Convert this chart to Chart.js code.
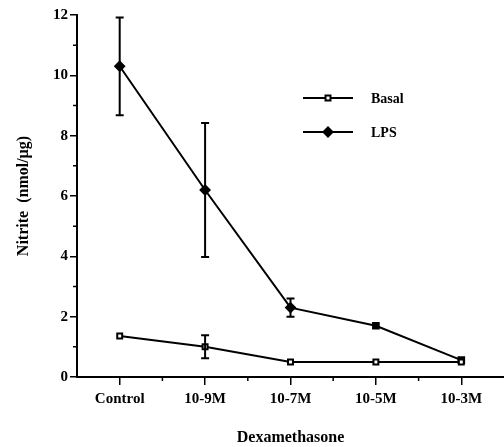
<!DOCTYPE html>
<html>
<head>
<meta charset="utf-8">
<script src="https://cdn.jsdelivr.net/npm/chart.js@4"></script>
<style>
  html, body { margin: 0; padding: 0; background: #fff; }
  canvas { display: block; }
</style>
</head>
<body>
<canvas id="c" width="504" height="447"></canvas>
<script>
// data
const doses = ["Control", "10-9M", "10-7M", "10-5M", "10-3M"];
const basal = [1.36, 1.0, 0.5, 0.5, 0.5];
const basalErr = [0, 0.38, 0, 0, 0];
const lps = [10.3, 6.2, 2.3, 1.7, 0.56];
const lpsErr = [1.62, 2.22, 0.3, 0, 0];
const yTicks = [0, 2, 4, 6, 8, 10, 12];

const FONT = "'Liberation Serif', 'Times New Roman', serif";

/* error bars + minor ticks + legend */
const extras = {
  id: "extras",
  afterDatasetsDraw(chart) {
    const ctx = chart.ctx;
    const x = chart.scales.x, y = chart.scales.y;
    ctx.save();
    ctx.strokeStyle = "#000";
    ctx.lineWidth = 2;
    const errs = [basalErr, lpsErr];
    chart.data.datasets.forEach((ds, di) => {
      ds.data.forEach((v, i) => {
        const e = errs[di][i];
        if (!e) return;
        const px = x.getPixelForValue(i);
        const top = y.getPixelForValue(v + e), bot = y.getPixelForValue(v - e);
        ctx.beginPath();
        ctx.moveTo(px, top); ctx.lineTo(px, bot);
        ctx.moveTo(px - 4, top); ctx.lineTo(px + 4, top);
        ctx.moveTo(px - 4, bot); ctx.lineTo(px + 4, bot);
        ctx.stroke();
      });
    });

    // minor ticks
    ctx.lineWidth = 1.5;
    ctx.beginPath();
    for (let i = 0; i < doses.length - 1; i++) {
      const px = (x.getPixelForValue(i) + x.getPixelForValue(i + 1)) / 2;
      ctx.moveTo(px, y.bottom); ctx.lineTo(px, y.bottom + 4);
    }
    for (let v = 1; v < 12; v += 2) {
      const py = y.getPixelForValue(v);
      ctx.moveTo(x.left, py); ctx.lineTo(x.left - 4, py);
    }
    ctx.stroke();

    // legend
    const items = [
      { label: "Basal", y: 98, style: "rect", fill: "#fff", r: 3.5 },
      { label: "LPS", y: 132, style: "rectRot", fill: "#000", r: 4.5 }
    ];
    items.forEach(it => {
      ctx.strokeStyle = "#000";
      ctx.lineWidth = 2;
      ctx.beginPath();
      ctx.moveTo(303, it.y); ctx.lineTo(353, it.y);
      ctx.stroke();
      ctx.fillStyle = it.fill;
      Chart.helpers.drawPoint(ctx, { pointStyle: it.style, radius: it.r, borderWidth: 2 }, 328, it.y);
      ctx.fillStyle = "#000";
      ctx.font = "bold 14px " + FONT;
      ctx.textBaseline = "middle";
      ctx.fillText(it.label, 371, it.y + 1);
    });
    ctx.restore();
  }
};

new Chart(document.getElementById("c"), {
  type: "line",
  data: {
    labels: doses,
    datasets: [
      {
        label: "Basal",
        data: basal,
        borderColor: "#000",
        borderWidth: 2,
        pointStyle: "rect",
        pointRadius: 3.5,
        pointBorderWidth: 2,
        pointBackgroundColor: "#fff",
        pointBorderColor: "#000"
      },
      {
        label: "LPS",
        data: lps,
        borderColor: "#000",
        borderWidth: 2,
        pointStyle: ["rectRot", "rectRot", "rectRot", "rect", "rect"],
        pointRadius: [4.5, 4.5, 4.5, 4, 4],
        pointBackgroundColor: "#000",
        pointBorderColor: "#000"
      }
    ]
  },
  options: {
    responsive: false,
    animation: false,
    layout: { autoPadding: false, padding: { top: 15, right: 0, left: 0, bottom: 0 } },
    plugins: { legend: { display: false }, tooltip: { enabled: false } },
    scales: {
      x: {
        type: "category",
        offset: true,
        grid: { drawOnChartArea: false, offset: false, tickLength: 8, tickColor: "#000", lineWidth: 1.5 },
        border: { color: "#000", width: 2 },
        ticks: { color: "#000", font: { family: FONT, size: 15, weight: "bold" }, padding: 5, maxRotation: 0 },
        title: { display: true, text: "Dexamethasone", color: "#000", font: { family: FONT, size: 16, weight: "bold" }, padding: 0 },
        afterFit(s) { s.height = 70; }
      },
      y: {
        min: 0,
        max: 12,
        afterBuildTicks(s) { s.ticks = yTicks.map(v => ({ value: v })); },
        grid: { drawOnChartArea: false, tickLength: 7, tickColor: "#000", lineWidth: 1.5 },
        border: { color: "#000", width: 2 },
        ticks: { color: "#000", font: { family: FONT, size: 15, weight: "bold" }, padding: 2 },
        title: { display: true, text: "Nitrite  (nmol/µg)", color: "#000", font: { family: FONT, size: 16, weight: "bold" }, padding: { top: 14, bottom: 0 } },
        afterFit(s) { s.width = 77; }
      }
    }
  },
  plugins: [extras]
});
</script>
</body>
</html>
